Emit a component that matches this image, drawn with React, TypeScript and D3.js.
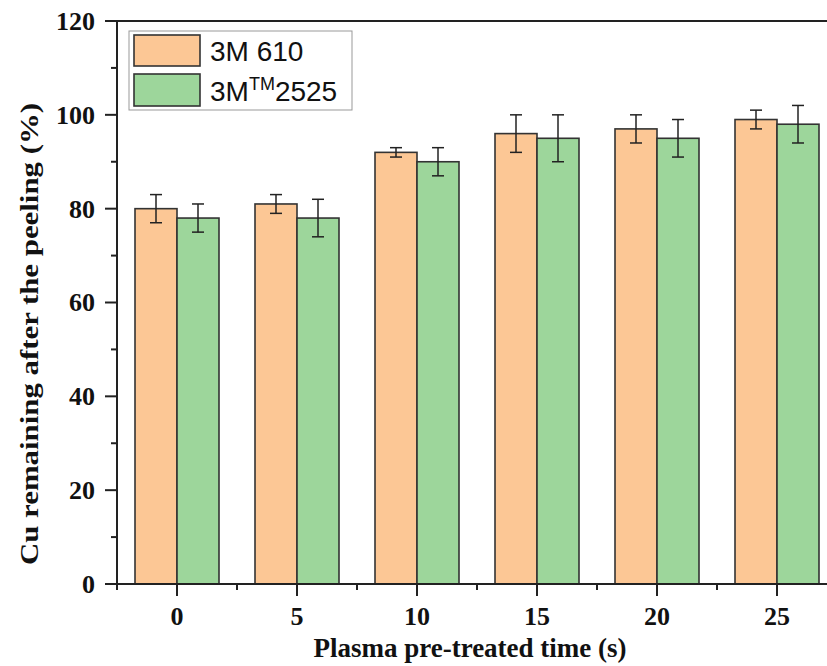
import React from "react";
import * as d3 from "d3";

const categories = [0, 5, 10, 15, 20, 25];
const series = ["3M 610", "3M2525"];
const values610 = [80, 81, 92, 96, 97, 99];
const err610 = [3, 2, 1, 4, 3, 2];
const values2525 = [78, 78, 90, 95, 95, 98];
const err2525 = [3, 4, 3, 5, 4, 4];
const yTicks = [0, 20, 40, 60, 80, 100, 120];
const yMinor = [10, 30, 50, 70, 90, 110];
const xMinor = [-2.5, 2.5, 7.5, 12.5, 17.5, 22.5, 27.5];

const W = 827;
const H = 666;
const left = 117;
const top = 21;
const bottom = 584;

const colors = ["#FCC795", "#9DD69B"];
const stroke = "#333";

export default function App() {
  const x = d3.scaleLinear().domain([-2.5, 27.5]).range([left, left + 720]);
  const y = d3.scaleLinear().domain([0, 120]).range([bottom, top]);
  const bw = x(1.75) - x(0);
  const serif = "'Liberation Serif', 'Times New Roman', serif";
  const sans = "'Liberation Sans', Arial, sans-serif";
  const data = [
    { v: values610, e: err610 },
    { v: values2525, e: err2525 },
  ];
  return (
    <svg width={W} height={H} style={{ position: "absolute", left: 0, top: 0 }}>
      <rect x={0} y={0} width={W} height={H} fill="#fff" />
      {data.map((s, si) =>
        categories.map((c, i) => {
          const x0 = si === 0 ? x(c) - bw : x(c);
          return (
            <rect
              key={`b${si}-${i}`}
              x={x0}
              y={y(s.v[i])}
              width={bw}
              height={y(0) - y(s.v[i])}
              fill={colors[si]}
              stroke={stroke}
              strokeWidth={1.6}
            />
          );
        })
      )}
      {data.map((s, si) =>
        categories.map((c, i) => {
          const cx = si === 0 ? x(c) - bw / 2 : x(c) + bw / 2;
          const yt = y(s.v[i] + s.e[i]);
          const yb = y(s.v[i] - s.e[i]);
          return (
            <g key={`e${si}-${i}`} stroke="#222" strokeWidth={1.5}>
              <line x1={cx} x2={cx} y1={yt} y2={yb} />
              <line x1={cx - 6} x2={cx + 6} y1={yt} y2={yt} />
              <line x1={cx - 6} x2={cx + 6} y1={yb} y2={yb} />
            </g>
          );
        })
      )}
      {/* frame */}
      <line x1={left} x2={W} y1={top} y2={top} stroke="#222" strokeWidth={2} />
      <line x1={left} x2={left} y1={top - 1} y2={bottom + 1} stroke="#222" strokeWidth={2} />
      <line x1={left - 1} x2={W} y1={bottom} y2={bottom} stroke="#222" strokeWidth={2} />
      {/* y ticks */}
      {yTicks.map((t) => (
        <g key={`yt${t}`}>
          <line x1={left - 12} x2={left} y1={y(t)} y2={y(t)} stroke="#222" strokeWidth={2} />
          <text
            x={left - 22}
            y={y(t)}
            dy="0.34em"
            textAnchor="end"
            fontFamily={serif}
            fontWeight="bold"
            fontSize={26}
            fill="#111"
          >
            {t}
          </text>
        </g>
      ))}
      {yMinor.map((t) => (
        <line key={`ym${t}`} x1={left - 6} x2={left} y1={y(t)} y2={y(t)} stroke="#222" strokeWidth={2} />
      ))}
      {/* x ticks */}
      {categories.map((c) => (
        <g key={`xt${c}`}>
          <line x1={x(c)} x2={x(c)} y1={bottom} y2={bottom + 12} stroke="#222" strokeWidth={2} />
          <text
            x={x(c)}
            y={625}
            textAnchor="middle"
            fontFamily={serif}
            fontWeight="bold"
            fontSize={26}
            fill="#111"
          >
            {c}
          </text>
        </g>
      ))}
      {xMinor.map((t) => (
        <line key={`xm${t}`} x1={x(t)} x2={x(t)} y1={bottom} y2={bottom + 6} stroke="#222" strokeWidth={2} />
      ))}
      <text
        x={470}
        y={657}
        textAnchor="middle"
        fontFamily={serif}
        fontWeight="bold"
        fontSize={27}
        fill="#111"
      >
        Plasma pre-treated time (s)
      </text>
      <text
        transform={`translate(38, 334) rotate(-90)`}
        textAnchor="middle"
        fontFamily={serif}
        fontWeight="bold"
        fontSize={26}
        textLength={462}
        lengthAdjust="spacingAndGlyphs"
        fill="#111"
      >
        Cu remaining after the peeling (%)
      </text>
      {/* legend */}
      <rect x={129} y={31} width={223} height={79} fill="#fff" stroke="#999" strokeWidth={1} />
      <rect x={134} y={35} width={66} height={31} fill={colors[0]} stroke={stroke} strokeWidth={1.6} />
      <rect x={134} y={74} width={66} height={32} fill={colors[1]} stroke={stroke} strokeWidth={1.6} />
      <text x={210} y={61} fontFamily={sans} fontSize={28} fill="#111">
        {series[0]}
      </text>
      <text x={210} y={101} fontFamily={sans} fontSize={28} fill="#111">
        3M
        <tspan fontSize={18} dy={-11}>TM</tspan>
        <tspan dy={11}>2525</tspan>
      </text>
    </svg>
  );
}
